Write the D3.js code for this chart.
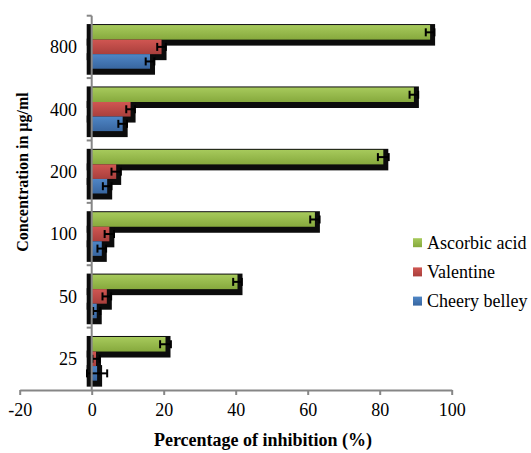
<!DOCTYPE html>
<html>
<head>
<meta charset="utf-8">
<script src="https://cdn.jsdelivr.net/npm/d3@7"></script>
<style>
  body { margin: 0; background: #fff; }
</style>
</head>
<body>
<div id="wrapper"></div>
<script>
const concentrations = ["800", "400", "200", "100", "50", "25"];
const seriesNames = ["Ascorbic acid", "Valentine", "Cheery belley"];
const xTicks = [-20, 0, 20, 40, 60, 80, 100];

// values listed in the same order as concentrations (800 ... 25)
const ascorbicAcid = [94, 89.5, 81, 62, 40.5, 20.5];
const ascorbicErr = [1.2, 1.2, 1.5, 1.3, 1.2, 1.5];
const valentine = [19.4, 10.8, 6.8, 4.9, 4.2, 1.2];
const valentineErr = [1.2, 1.2, 1.3, 1.3, 1.2, 1.0];
const cheeryBelley = [16.2, 8.6, 4.3, 2.8, 1.4, 1.5];
const cheeryErr = [1.2, 1.2, 1.2, 1.2, 1.0, 2.8];

const seriesValues = [ascorbicAcid, valentine, cheeryBelley];
const seriesErrs = [ascorbicErr, valentineErr, cheeryErr];
const colors = [
    ["#a7ca5c", "#86a93d"],
    ["#d05652", "#a93f3c"],
    ["#4f86c6", "#3866a0"]
];
const serif = "'Liberation Serif', 'Times New Roman', Times, serif";

const data = [];
concentrations.forEach((c, i) => {
    seriesNames.forEach((s, j) => {
        data.push({ conc: c, series: s, idx: j, value: seriesValues[j][i], err: seriesErrs[j][i] });
    });
});

let dimensions = { width: 531, height: 453 };

const svg = d3.select("#wrapper")
    .append("svg")
    .attr("width", dimensions.width)
    .attr("height", dimensions.height)
    .style("font-family", serif);

const defs = svg.append("defs");
colors.forEach((c, j) => {
    const g = defs.append("linearGradient")
        .attr("id", "grad" + j)
        .attr("x1", 0).attr("y1", 0).attr("x2", 0).attr("y2", 1);
    g.append("stop").attr("offset", "0%").attr("stop-color", c[0]);
    g.append("stop").attr("offset", "100%").attr("stop-color", c[1]);
});

const xScale = d3.scaleLinear()
    .domain([-20, 100])
    .range([19.7, 451.7]);

const yScale = d3.scaleBand()
    .domain(concentrations)
    .range([15.7, 390])
    .paddingInner(0.3)
    .paddingOuter(0.15);

const inner = d3.scaleBand()
    .domain(seriesNames)
    .range([0, yScale.bandwidth()]);

const barY = d => yScale(d.conc) + inner(d.series);

// shadows first
svg.append("g")
    .selectAll("rect")
    .data(data)
    .join("rect")
    .attr("x", d => xScale(0) - 5)
    .attr("y", d => barY(d) - 1)
    .attr("width", d => xScale(d.value) - xScale(0) + 10)
    .attr("height", inner.bandwidth() + 7)
    .attr("fill", "#0c0c0c");

svg.append("g")
    .selectAll("rect")
    .data(data)
    .join("rect")
    .attr("x", xScale(0))
    .attr("y", barY)
    .attr("width", d => xScale(d.value) - xScale(0))
    .attr("height", inner.bandwidth())
    .attr("fill", d => "url(#grad" + d.idx + ")");

// error bars
const eb = svg.append("g")
    .attr("stroke", "#000")
    .attr("stroke-width", 2);
data.forEach(d => {
    const cy = barY(d) + inner.bandwidth() / 2;
    const x1 = xScale(d.value - d.err), x2 = xScale(d.value + d.err);
    eb.append("line").attr("x1", x1).attr("x2", x2).attr("y1", cy).attr("y2", cy);
    eb.append("line").attr("x1", x1).attr("x2", x1).attr("y1", cy - 4).attr("y2", cy + 4);
    eb.append("line").attr("x1", x2).attr("x2", x2).attr("y1", cy - 4).attr("y2", cy + 4);
});

// x axis
const xAxis = svg.append("g")
    .attr("transform", "translate(0,390)")
    .call(d3.axisBottom(xScale).tickValues(xTicks).tickFormat(d => String(d))
        .tickSize(5).tickSizeOuter(0).tickPadding(8));
xAxis.selectAll("path, line").attr("stroke", "#868686").attr("stroke-width", 2);
xAxis.selectAll("text")
    .style("font-family", serif)
    .style("font-size", "18px")
    .attr("fill", "#000");

// y axis at x = 0
const edges = concentrations.map(c => yScale(c) - yScale.step() * yScale.paddingInner() / 2);
const yAxis = svg.append("g");
yAxis.append("line")
    .attr("x1", xScale(0)).attr("x2", xScale(0))
    .attr("y1", edges[0]).attr("y2", 390)
    .attr("stroke", "#868686").attr("stroke-width", 2);
yAxis.selectAll(".tk")
    .data(edges)
    .join("line")
    .attr("x1", xScale(0) - 5).attr("x2", xScale(0))
    .attr("y1", d => d).attr("y2", d => d)
    .attr("stroke", "#868686").attr("stroke-width", 2);
yAxis.selectAll("text")
    .data(concentrations)
    .join("text")
    .attr("x", 77)
    .attr("y", d => yScale(d) + yScale.bandwidth() / 2)
    .attr("dy", "0.35em")
    .attr("text-anchor", "end")
    .style("font-family", serif)
    .style("font-size", "18px")
    .text(d => d);

// titles
svg.append("text")
    .attr("x", 263)
    .attr("y", 446)
    .attr("text-anchor", "middle")
    .style("font-family", serif)
    .style("font-size", "18px")
    .style("font-weight", "bold")
    .text("Percentage of inhibition (%)");

svg.append("text")
    .attr("transform", "translate(28,172) rotate(-90)")
    .attr("text-anchor", "middle")
    .style("font-family", serif)
    .style("font-size", "16px")
    .style("font-weight", "bold")
    .text("Concentration in µg/ml");

// legend
const legend = svg.append("g");
seriesNames.forEach((s, j) => {
    const ly = 242.7 + j * 29.2;
    legend.append("rect")
        .attr("x", 413).attr("y", ly - 4.5)
        .attr("width", 9).attr("height", 9)
        .attr("fill", "url(#grad" + j + ")");
    legend.append("text")
        .attr("x", 427).attr("y", ly)
        .attr("dy", "0.35em")
        .style("font-family", serif)
        .style("font-size", "18px")
        .text(s);
});
</script>
</body>
</html>
